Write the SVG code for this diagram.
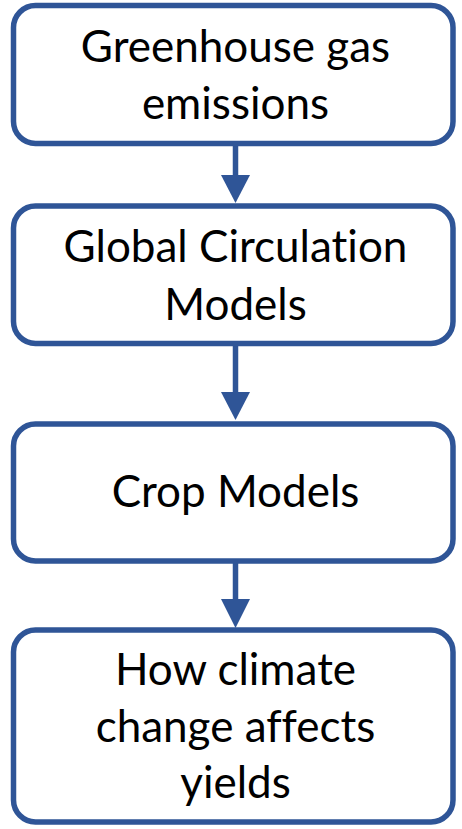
<svg xmlns="http://www.w3.org/2000/svg" width="462" height="829" viewBox="0 0 462 829">
<defs>
<style>
.box{fill:#fff;stroke:#2F5597;stroke-width:5.5}
.t{font-family:Lato,"Open Sans","Noto Sans",sans-serif;font-size:44px;fill:#000;text-anchor:middle;font-variant-ligatures:none;font-feature-settings:"liga" 0,"dlig" 0}
.c{stroke:#2F5597;stroke-width:5.5;fill:none}
.h{fill:#2F5597}
</style>
</defs>
<rect width="462" height="829" fill="#fff"/>
<g id="connectors">
<line class="c" x1="235.5" y1="146" x2="235.5" y2="178"/>
<polygon class="h" points="221,175 250,175 235.5,203"/>
<line class="c" x1="235.5" y1="346" x2="235.5" y2="395"/>
<polygon class="h" points="221,392 250,392 235.5,420"/>
<line class="c" x1="235.5" y1="563" x2="235.5" y2="602"/>
<polygon class="h" points="221,599 250,599 235.5,628"/>
</g>
<g id="node1">
<rect class="box" x="13.5" y="5.5" width="439.5" height="138" rx="22"/>
<text class="t" x="235.5" y="62">Greenhouse gas</text>
<text class="t" x="235.5" y="119">emissions</text>
</g>
<g id="node2">
<rect class="box" x="13.5" y="206" width="439.5" height="137.5" rx="22"/>
<text class="t" x="235.5" y="262">Global Circulation</text>
<text class="t" x="235.5" y="320">Models</text>
</g>
<g id="node3">
<rect class="box" x="13.5" y="424" width="439.5" height="137" rx="22"/>
<text class="t" x="235.5" y="507">Crop Models</text>
</g>
<g id="node4">
<rect class="box" x="13.5" y="630" width="439.5" height="192" rx="22"/>
<text class="t" x="235.5" y="685">How climate</text>
<text class="t" x="235.5" y="742">change affects</text>
<text class="t" x="235.5" y="798">yields</text>
</g>
</svg>
